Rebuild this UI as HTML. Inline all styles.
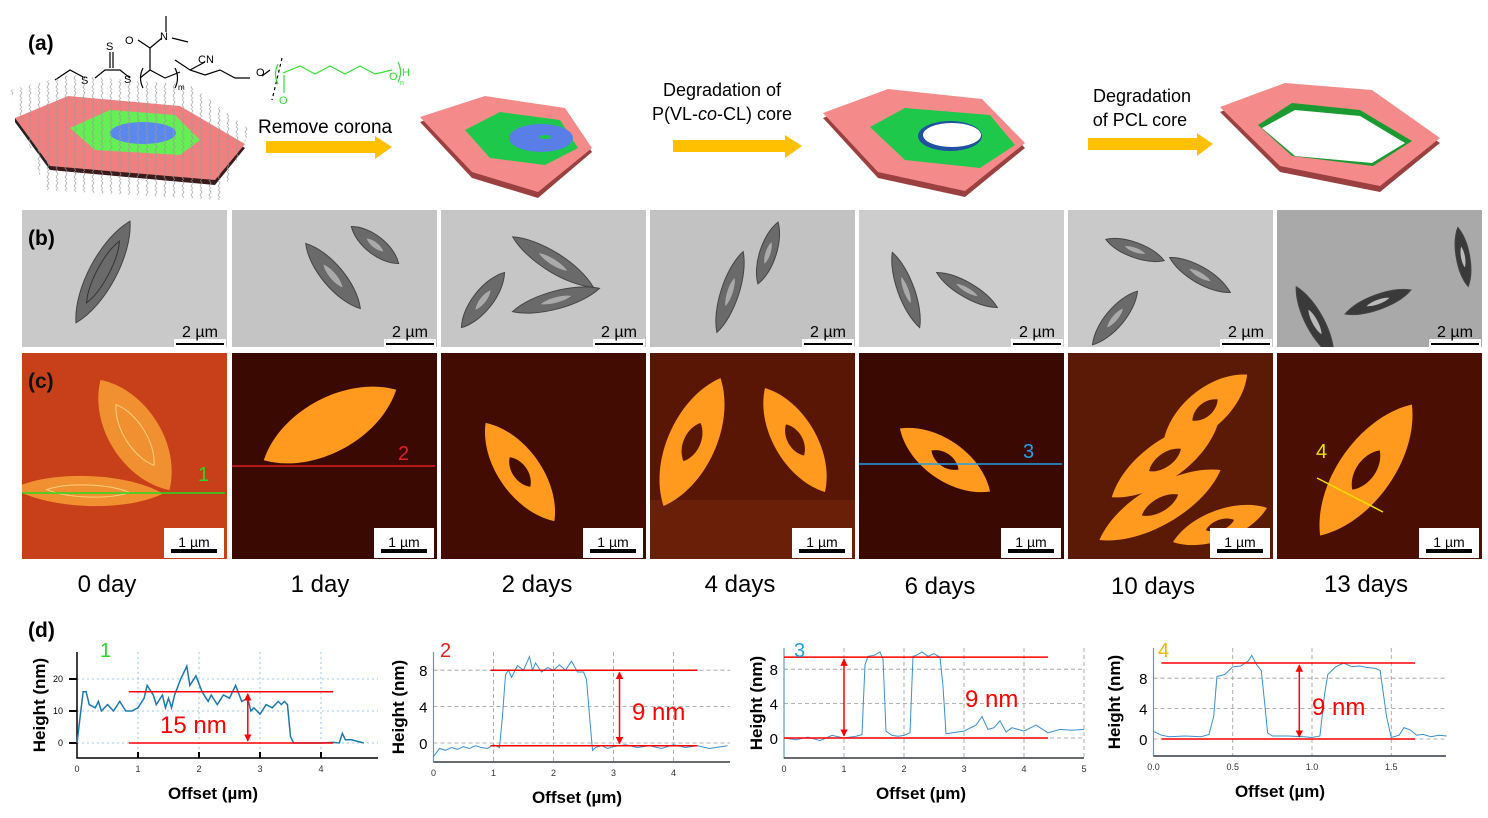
<!DOCTYPE html>
<html><head><meta charset="utf-8">
<style>
html,body{margin:0;padding:0;background:#fff;}
svg{display:block;font-family:"Liberation Sans",sans-serif;}
</style></head>
<body>
<svg id="fig" width="1488" height="818" viewBox="0 0 1488 818" xmlns="http://www.w3.org/2000/svg">
<defs>
<pattern id="hair" width="9" height="9" patternUnits="userSpaceOnUse"><path d="M2 0 l2 3 l-2 3 l2 3" stroke="#999" stroke-width="0.8" fill="none"/></pattern>
<marker id="ah" viewBox="0 0 10 10" refX="9" refY="5" markerWidth="5" markerHeight="5" orient="auto-start-reverse"><path d="M0 0 L10 5 L0 10z" fill="#f00"/></marker>
</defs>

<!-- chemical structure -->
<g stroke="#000" stroke-width="1.2" fill="none">
<polyline points="55,80 70,70 85,78"/>
<polyline points="95,78 105,70 120,70 130,78"/>
<line x1="110" y1="68" x2="110" y2="52"/><line x1="113" y1="68" x2="113" y2="52"/>
<polyline points="140,78 150,70 165,78 180,72"/>
<line x1="150" y1="70" x2="150" y2="48"/>
<line x1="150" y1="48" x2="138" y2="40"/><line x1="150" y1="48" x2="162" y2="38"/>
<polyline points="172,38 188,42"/><line x1="166" y1="32" x2="166" y2="16"/>
<polyline points="175,60 190,70 205,75 220,70 235,78 250,78"/>
<line x1="190" y1="70" x2="205" y2="62"/>
<path d="M143 68 q-5 10 0 20 M175 68 q5 10 0 20"/>
<polyline points="262,76 270,70" stroke="#000"/>
<line x1="282" y1="58" x2="272" y2="100" stroke-dasharray="3,3"/>
</g>
<g font-size="11">
<text x="81" y="84">S</text><text x="124" y="83">S</text><text x="106" y="50">S</text>
<text x="125" y="44">O</text><text x="160" y="40">N</text><text x="198" y="63">CN</text>
<text x="256" y="76">O</text><text x="178" y="90" font-size="8">m</text>
</g>
<g>
<polyline points="283,73 300,66 315,74 330,66 345,74 360,66 375,74 392,70" stroke="#2ee02e" stroke-width="1.2" fill="none"/>
<path d="M278 64 q-5 10 0 20 M398 62 q5 10 0 20" stroke="#2ee02e" stroke-width="1.2" fill="none"/>
<line x1="284" y1="75" x2="284" y2="93" stroke="#2ee02e" stroke-width="1.2"/>
<text x="279" y="104" font-size="11" fill="#2ee02e">O</text>
<text x="389" y="80" font-size="11" fill="#2ee02e">O</text>
<text x="402" y="76" font-size="11" fill="#2ee02e">H</text>
<text x="400" y="85" font-size="7" fill="#2ee02e">n</text>
</g>

<!-- hexagon schematic 1 -->
<g>
<polygon points="15,122 68,100 180,110 245,148 215,185 50,170" fill="#3a1a1a"/>
<polygon points="15,118 68,96 180,106 245,144 215,180 50,166" fill="#f08080"/>
<polygon points="15,118 50,166 50,170 15,122" fill="#222"/>
<polygon points="70,128 110,110 175,115 200,140 180,155 95,150" fill="#66ee55"/>
<ellipse cx="143" cy="133" rx="33" ry="11" fill="#5a88ee"/>
<polygon points="10,90 70,75 190,85 250,130 220,200 45,190" fill="url(#hair)" opacity="0.8"/>
</g>
<!-- arrows -->
<g fill="#ffc000">
<polygon points="266,141 375,141 375,136 392,147 375,159 375,153 266,153"/>
<polygon points="673,140 785,140 785,135 802,146 785,158 785,152 673,152"/>
<polygon points="1088,138 1197,138 1197,133 1213,144 1197,156 1197,150 1088,150"/>
</g>
<text x="258" y="133" font-size="19">Remove corona</text>
<text x="722" y="96" font-size="18" text-anchor="middle">Degradation of</text>
<text x="722" y="120" font-size="18" text-anchor="middle">P(VL-<tspan font-style="italic">co</tspan>-CL) core</text>
<text x="1142" y="102" font-size="18" text-anchor="middle">Degradation</text>
<text x="1140" y="126" font-size="18" text-anchor="middle">of PCL core</text>

<g>
<polygon points="420,122 485,100 565,112 592,152 538,198 472,178" fill="#9a4040"/>
<polygon points="420,117 485,96 565,108 592,148 538,192 472,172" fill="#f58a8a"/>
<polygon points="465,130 500,112 560,120 578,148 545,165 490,158" fill="#1ec84a"/>
<ellipse cx="541" cy="138" rx="32" ry="14" fill="#5a7ee8"/>
<ellipse cx="545" cy="137" rx="6" ry="2" fill="#1ec84a"/>
</g>
<g>
<polygon points="823,118 888,94 982,104 1025,148 965,197 878,178" fill="#9a4040"/>
<polygon points="823,113 888,89 982,99 1025,143 965,191 878,172" fill="#f58a8a"/>
<polygon points="870,127 905,108 990,115 1015,145 980,168 905,160" fill="#1ec84a"/>
<ellipse cx="950" cy="136" rx="32" ry="15" fill="#2050a0"/>
<ellipse cx="952" cy="135" rx="29" ry="12" fill="#fff"/>
</g>
<g>
<polygon points="1220,112 1285,88 1372,95 1440,143 1380,192 1280,172" fill="#9a4040"/>
<polygon points="1220,107 1285,83 1372,90 1440,138 1380,186 1280,166" fill="#f58a8a"/>
<polygon points="1258,125 1292,103 1360,110 1412,141 1373,166 1292,156" fill="#1a9a30"/>
<polygon points="1262,128 1295,110 1360,116 1405,143 1372,163 1295,156" fill="#fff"/>
</g>

<g id="rowB"></g>
<g id="rowC"></g>

<!-- day labels -->
<g font-size="24" text-anchor="middle">
<text x="107" y="592">0 day</text><text x="320" y="592">1 day</text><text x="537" y="592">2 days</text>
<text x="740" y="592">4 days</text><text x="940" y="594">6 days</text><text x="1153" y="594">10 days</text><text x="1366" y="592">13 days</text>
</g>

<g id="plots"></g>

<!-- panel labels (on top) -->
<text x="28" y="50" font-size="21" font-weight="bold">(a)</text>
<text x="28" y="245" font-size="21" font-weight="bold">(b)</text>
<text x="28" y="388" font-size="21" font-weight="bold" fill="#111">(c)</text>
<text x="28" y="637" font-size="21" font-weight="bold">(d)</text>

<script>
const NS='http://www.w3.org/2000/svg';
function mk(tag,attrs,parent){const e=document.createElementNS(NS,tag);for(const k in attrs)e.setAttribute(k,attrs[k]);parent.appendChild(e);return e;}
const panelX=[22,232,441,650,859,1068,1277];
const panelW=205;
const defs=document.querySelector('defs');
function spindle(g,cx,cy,rot,len,w,fill,stroke){
  const L=len/2;
  const p=mk('path',{d:`M${-L},0 C${-L*0.5},${-w} ${L*0.5},${-w} ${L},0 C${L*0.5},${w} ${-L*0.5},${w} ${-L},0 Z`,transform:`translate(${cx},${cy}) rotate(${rot})`,fill:fill,stroke:stroke||'none','stroke-width':1},g);
  
  
  return p;
}
// Row B (TEM)
const rowB=document.getElementById('rowB');
const bBg=['#c9c9c9','#c4c4c4','#c6c6c6','#c2c2c2','#cdcdcd','#c9c9c9','#a9a9a9'];
const bShapes=[
 [[103,272,-62,115,18]],
 [[333,276,50,85,14],[375,245,38,60,12]],
 [[483,300,-52,70,13],[553,262,32,95,13],[556,300,-15,90,12]],
 [[730,292,-72,85,12],[768,253,-72,65,11]],
 [[906,290,70,80,11],[967,290,30,70,10]],
 [[1135,250,20,62,10],[1200,275,30,70,11],[1115,318,-50,70,12]],
 [[1315,322,62,80,12],[1378,302,-20,70,10],[1463,257,80,60,9]]
];
panelX.forEach((x,i)=>{
  const cp=mk('clipPath',{id:'cb'+i},defs);
  mk('rect',{x:x,y:210,width:panelW,height:137},cp);
  const g=mk('g',{'clip-path':'url(#cb'+i+')'},rowB);
  
  
  mk('rect',{x:x,y:210,width:panelW,height:137,fill:bBg[i]},g);
  bShapes[i].forEach(s=>{
    spindle(g,s[0],s[1],s[2],s[3],s[4],i==6?'#3a3a3a':'#6a6a6a','#444');
    if(i>0) spindle(g,s[0],s[1],s[2],s[3]*0.35,s[4]*0.3,i==6?'#bbb':'#aaa');
  });
  if(i==0) spindle(g,103,272,-62,70,8,'none','#333');
  const sb=mk('g',{},g);
  
  
  mk('rect',{x:x+152,y:339,width:52,height:8,fill:'#fff'},sb);
  mk('line',{x1:x+154,y1:344,x2:x+202,y2:344,stroke:'#000','stroke-width':2},sb);
  const t=mk('text',{x:x+178,y:337,'font-size':16,'text-anchor':'middle',fill:'#000'},sb);
  t.textContent='2 µm';
});
// Row C (AFM)
const rowC=document.getElementById('rowC');
const cBg=['#c8401a','#3a0a02','#420c03','#5a1605','#3a0a02','#5a1a06','#4a0e03'];
const cShapes=[
 [[135,435,58,130,34],[88,491,2,150,20]],
 [[330,425,-28,150,36]],
 [[520,472,55,120,28]],
 [[692,442,-66,140,32],[795,440,60,120,28]],
 [[945,460,35,110,26]],
 [[1205,410,-40,110,26],[1165,460,-35,130,26],[1160,505,-30,140,26],[1220,525,-20,100,20]],
 [[1366,470,-55,160,36]]
];
panelX.forEach((x,i)=>{
  const cp=mk('clipPath',{id:'cc'+i},defs);
  mk('rect',{x:x,y:353,width:panelW,height:206},cp);
  const g=mk('g',{'clip-path':'url(#cc'+i+')'},rowC);
  
  
  mk('rect',{x:x,y:353,width:panelW,height:206,fill:cBg[i]},g);
  if(i==3) mk('rect',{x:x,y:500,width:panelW,height:59,fill:'#6a2008'},g);
  cShapes[i].forEach(s=>{
    spindle(g,s[0],s[1],s[2],s[3],s[4],i==0?'#f09030':'#ff9a1e');
    if(i>1) spindle(g,s[0],s[1],s[2],s[3]*0.3,s[4]*0.35,cBg[i]);
    if(i==0) spindle(g,s[0],s[1],s[2],s[3]*0.55,s[4]*0.4,'none','#ffd080');
  });
  const sb=mk('g',{},g);
  
  
  mk('rect',{x:x+142,y:528,width:60,height:30,fill:'#fff'},sb);
  mk('line',{x1:x+149,y1:551,x2:x+195,y2:551,stroke:'#000','stroke-width':4},sb);
  const t=mk('text',{x:x+172,y:547,'font-size':14,'text-anchor':'middle'},sb);
  t.textContent='1 µm';
});
const prof=[
 {x1:22,y1:493,x2:225,y2:493,c:'#22dd22',lab:'1',lx:198,ly:481},
 {x1:232,y1:466,x2:435,y2:466,c:'#e02020',lab:'2',lx:398,ly:460},
 {x1:859,y1:464,x2:1062,y2:464,c:'#20a0e8',lab:'3',lx:1023,ly:458},
 {x1:1317,y1:478,x2:1383,y2:512,c:'#f0e000',lab:'4',lx:1316,ly:458}
];
prof.forEach(p=>{
  const l=mk('line',{x1:p.x1,y1:p.y1,x2:p.x2,y2:p.y2,stroke:p.c,'stroke-width':1.5},rowC);
  
  
  const t=mk('text',{x:p.lx,y:p.ly,'font-size':20,fill:p.c},rowC);
  
  
  t.textContent=p.lab;
});

// ---- height profile data ----
const p1x=[0,0.05,0.1,0.15,0.2,0.3,0.35,0.4,0.5,0.6,0.7,0.8,0.9,1.0,1.1,1.15,1.25,1.3,1.4,1.45,1.5,1.55,1.6,1.7,1.8,1.85,1.95,2.05,2.15,2.2,2.3,2.4,2.5,2.6,2.7,2.8,2.85,2.9,3.0,3.1,3.2,3.3,3.35,3.4,3.45,3.5,3.55,3.6,3.8,4.0,4.2,4.3,4.35,4.4,4.5,4.6,4.7];
const p1y=[0,8,16,16,12,11,13,10,12,10,13,10,10,11,14,18,15,12,15,11,14,11,15,20,24,18,21,16,13,15,12,15,14,18,13,14,10,11,9,12,11,13,12,13,12,2,0,0,0,0,0.2,0,3,1,1,0.5,0];
const p2x=[0,0.1,0.2,0.3,0.4,0.5,0.6,0.7,0.8,0.9,1.0,1.1,1.15,1.2,1.25,1.3,1.4,1.5,1.6,1.65,1.7,1.8,1.9,2.0,2.1,2.2,2.3,2.4,2.5,2.55,2.6,2.65,2.7,2.8,2.9,3.0,3.2,3.4,3.6,3.8,4.0,4.2,4.4,4.6,4.8,4.9];
const p2y=[-1.5,-0.6,-0.8,-0.5,-0.7,-0.4,-0.6,-0.3,-0.5,-0.6,-0.2,-0.5,3,7.5,8,7.2,8.5,8,9.5,8,8.8,7.8,8.3,8,8.6,8,9,7.8,7.8,7,3,-0.8,-0.5,-0.3,-0.6,-0.4,-0.2,-0.5,-0.3,-0.6,-0.2,-0.5,-0.3,-0.6,-0.4,-0.3];
const p3x=[0,0.2,0.4,0.6,0.8,1.0,1.2,1.3,1.35,1.4,1.5,1.6,1.65,1.7,1.8,1.9,2.0,2.1,2.15,2.2,2.3,2.4,2.5,2.6,2.65,2.7,2.8,3.0,3.2,3.3,3.4,3.5,3.6,3.7,3.8,4.0,4.2,4.4,4.6,4.8,5.0];
const p3y=[0,-0.2,0.1,-0.3,0.3,0,0.2,0.4,8.5,9.5,9.6,10,9.2,0.8,0.3,0.2,0.3,0.6,9.5,9.6,10,9.5,9.8,9.4,6,0.5,0.6,0.8,1.5,2.5,1,1.2,2,0.7,1.2,0.8,1.5,0.6,1,0.9,1];
const p4x=[0,0.05,0.1,0.2,0.3,0.35,0.38,0.4,0.45,0.5,0.55,0.6,0.62,0.65,0.68,0.7,0.72,0.75,0.85,0.95,1.0,1.05,1.08,1.1,1.15,1.2,1.25,1.3,1.35,1.4,1.43,1.47,1.5,1.55,1.58,1.62,1.66,1.7,1.75,1.8,1.85];
const p4y=[1,0.5,0.3,0.4,0.3,0.6,3,8.2,8.5,9.5,9.6,10.3,11,9.8,9,5,0.8,0.4,0.4,0.3,0.2,0.4,6,8.5,9.5,10,9.5,9.6,9.4,9.3,9,3,0.2,0.5,1.5,1.2,0.5,0.6,0.3,0.5,0.4];
const p1TickX=['0','1','2','3','4'];
const p1TickY=['0','10','20'];
const p2TickX=['0','1','2','3','4'];
const p2TickY=['0','4','8'];
const p3TickX=['0','1','2','3','4','5'];
const p3TickY=['0','4','8'];
const p4TickX=['0.0','0.5','1.0','1.5'];
const p4TickY=['0','4','8'];
const stepLabels=['15 nm','9 nm','9 nm','9 nm'];
const stepLow=[0,-0.3,0,0];
const stepHigh=[16,8,9.4,10];

const plots=[
 {id:1,x0:77,ux:61,y0:743,uy:3.2,left:77,bottom:758,right:378,top:652,xs:p1x,ys:p1y,tx:p1TickX,ty:p1TickY,red:[0.85,4.2],arrowX:2.8,lab:'15 nm',labX:160,labY:733,num:'1',numC:'#22dd22',numX:100,grid:'#7fb8e8',dash:'2,3',ylabX:45,xlabX:213},
 {id:2,x0:433.5,ux:60,y0:743,uy:9.1,left:433.5,bottom:762,right:730,top:652,xs:p2x,ys:p2y,tx:p2TickX,ty:p2TickY,red:[0.95,4.4],arrowX:3.1,lab:'9 nm',labX:632,labY:720,num:'2',numC:'#e02020',numX:440,grid:'#999',dash:'4,3',ylabX:404,xlabX:577},
 {id:3,x0:784,ux:60,y0:738,uy:8.6,left:784,bottom:758,right:1084,top:648,xs:p3x,ys:p3y,tx:p3TickX,ty:p3TickY,red:[0,4.4],arrowX:1.0,lab:'9 nm',labX:965,labY:707,num:'3',numC:'#20a0e8',numX:794,grid:'#999',dash:'4,3',ylabX:762,xlabX:921},
 {id:4,x0:1153.5,ux:158.5,y0:739,uy:7.6,left:1153.5,bottom:756,right:1446,top:648,xs:p4x,ys:p4y,tx:p4TickX,ty:p4TickY,red:[0.05,1.65],arrowX:0.92,lab:'9 nm',labX:1312,labY:715,num:'4',numC:'#f0b400',numX:1158,grid:'#999',dash:'4,3',ylabX:1120,xlabX:1280}
];
const root=document.getElementById('plots');
plots.forEach((P,k)=>{
  const sx=v=>P.x0+v*P.ux, sy=v=>P.y0-v*P.uy;
  const g=mk('g',{},root);
  
  
  P.tx.forEach(t=>{const v=parseFloat(t); if(v>0){
    const l=mk('line',{x1:sx(v),y1:P.top,x2:sx(v),y2:P.bottom,stroke:P.grid,'stroke-width':0.8,'stroke-dasharray':P.dash},g);
    
    }});
  P.ty.forEach(t=>{const v=parseFloat(t);
    const l=mk('line',{x1:P.left,y1:sy(v),x2:P.right,y2:sy(v),stroke:P.grid,'stroke-width':0.8,'stroke-dasharray':P.dash},g);
    
    
    const tt=mk('text',{x:P.left-(k==0?14:6),y:sy(v)+(k==0?3:6),'font-size':k==0?9:15,'text-anchor':'end'},g);
    
    
    tt.textContent=t;
    if(k==0){const tk=mk('line',{x1:P.left-8,y1:sy(v),x2:P.left,y2:sy(v),stroke:'#000','stroke-width':2},g);
      
      }
  });
  const ax=mk('polyline',{points:`${P.left},${P.top} ${P.left},${P.bottom} ${P.right},${P.bottom}`,fill:'none',stroke:k==0?'#000':'#5a9ad8','stroke-width':k==0?1.5:1.2},g);
  
  
  if(k>0){const bx=mk('line',{x1:P.left,y1:P.bottom,x2:P.right,y2:P.bottom,stroke:'#444','stroke-width':1.5},g);
    
    }
  P.tx.forEach(t=>{const v=parseFloat(t);
    const tt=mk('text',{x:sx(v),y:P.bottom+14,'font-size':9,'text-anchor':'middle',fill:'#333'},g);
    
    
    tt.textContent=t;
    if(k==0&&v>0){const tk=mk('line',{x1:sx(v),y1:P.bottom-6,x2:sx(v),y2:P.bottom,stroke:'#000','stroke-width':2},g);
      
      }
  });
  const line=mk('polyline',{points:P.xs.map((x,i)=>sx(x)+','+sy(P.ys[i])).join(' '),fill:'none',stroke:k==0?'#1a78b0':'#3a90d0','stroke-width':k==0?1.5:1},g);
  
  
  [stepLow[k],stepHigh[k]].forEach(v=>{
    const r=mk('line',{x1:sx(P.red[0]),y1:sy(v),x2:sx(P.red[1]),y2:sy(v),stroke:'#f00','stroke-width':1.5},g);
    
    
  });
  const ar=mk('line',{x1:sx(P.arrowX),y1:sy(stepHigh[k])+2,x2:sx(P.arrowX),y2:sy(stepLow[k])-2,stroke:'#f00','stroke-width':1.5,'marker-start':'url(#ah)','marker-end':'url(#ah)'},g);
  
  
  const sl=mk('text',{x:P.labX,y:P.labY,'font-size':24,fill:'#f00'},g);
  
  
  sl.textContent=stepLabels[k];
  const nl=mk('text',{x:P.numX,y:657,'font-size':20,fill:P.numC},g);
  
  
  nl.textContent=P.num;
  const yl=mk('text',{x:P.ylabX,y:(P.top+P.bottom)/2,'font-size':17,'font-weight':'bold','text-anchor':'middle',transform:`rotate(-90 ${P.ylabX} ${(P.top+P.bottom)/2})`},g);
  
  
  yl.textContent='Height (nm)';
  const xl=mk('text',{x:P.xlabX,y:P.bottom+41,'font-size':17,'font-weight':'bold','text-anchor':'middle'},g);
  
  
  xl.textContent='Offset (µm)';
});
</script>
</svg>
</body></html>
